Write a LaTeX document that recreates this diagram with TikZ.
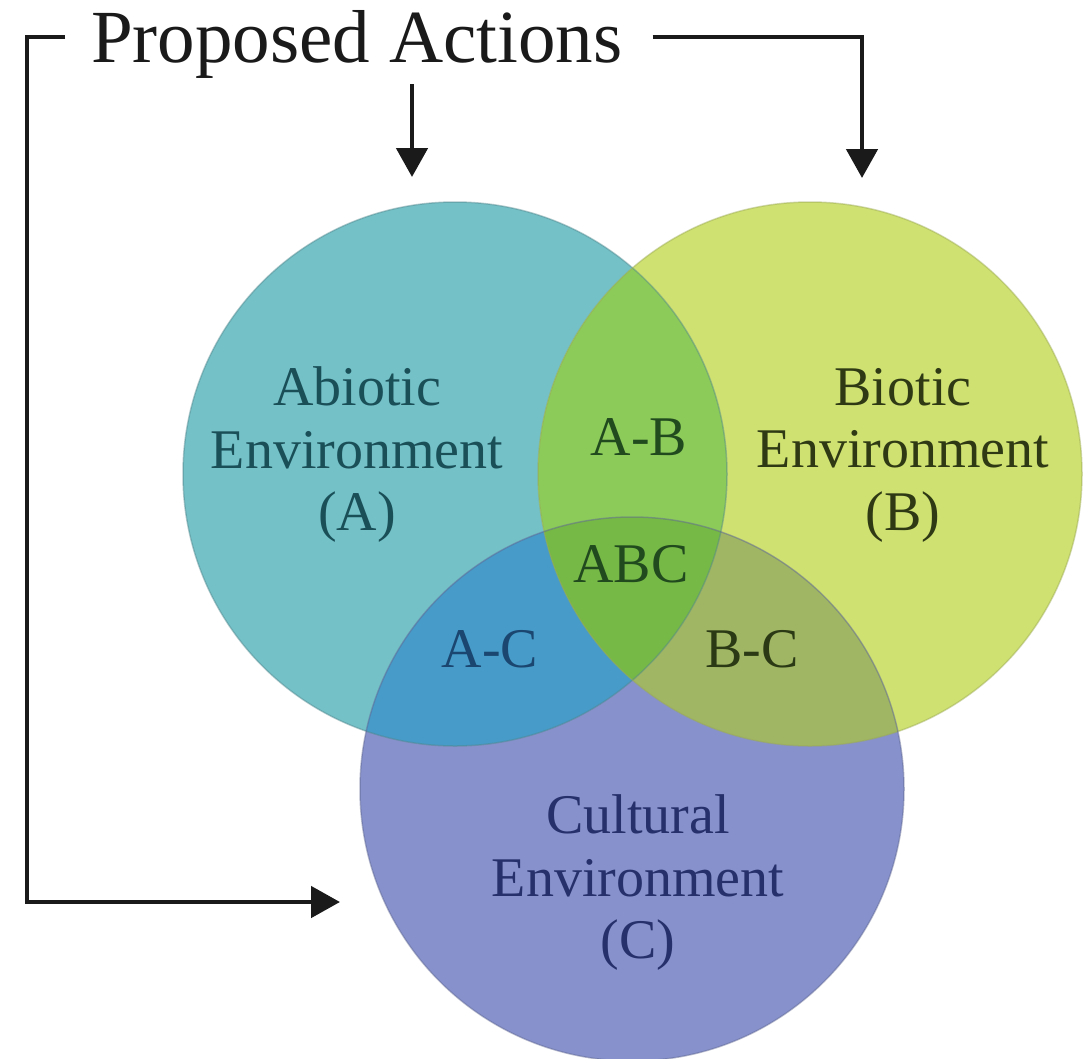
\documentclass[tikz,border=0pt]{standalone}
\usepackage{fontspec}
\setmainfont{Liberation Serif}
\usetikzlibrary{arrows.meta}
\definecolor{cA}{HTML}{74C1C8}
\definecolor{cB}{HTML}{CEE171}
\definecolor{cC}{HTML}{8792CD}
\definecolor{cAB}{HTML}{8CCA5A}
\definecolor{cAC}{HTML}{469BC8}
\definecolor{cBC}{HTML}{A0B664}
\definecolor{cABC}{HTML}{76B946}
\definecolor{tA}{HTML}{1A4F58}
\definecolor{tB}{HTML}{2F3A14}
\definecolor{tC}{HTML}{26306A}
\definecolor{tAB}{HTML}{214A1E}
\definecolor{tAC}{HTML}{1A4670}
\definecolor{tBC}{HTML}{2B3A14}
\definecolor{lineclr}{HTML}{1A1A1A}
\begin{document}
\begin{tikzpicture}[x=1pt,y=-1pt,
  conn/.style={line width=4.8pt, draw=lineclr},
  tipend/.style={-{Triangle[length=29pt,width=31pt]}},
  setcircle/.style={circle, inner sep=0pt, outer sep=0pt, minimum size=544pt},
  biglab/.style={font=\fontsize{56}{62.5}\selectfont, align=center, inner sep=0pt},
  smalllab/.style={font=\fontsize{56}{62.5}\selectfont, inner sep=0pt, anchor=base},
  edge/.style={line width=1.5pt, opacity=0.45}
]
\useasboundingbox (0,0) rectangle (1084,1058);
\fill[white] (0,0) rectangle (1084,1058);

% circles
\node[setcircle, fill=cA] (A) at (455,474) {};
\node[setcircle, fill=cB] (B) at (810,474) {};
\node[setcircle, fill=cC] (C) at (632,789) {};

% overlaps
\begin{scope}
  \clip (A.center) circle[radius=272pt];
  \fill[cAB] (B.center) circle[radius=272pt];
  \fill[cAC] (C.center) circle[radius=272pt];
\end{scope}
\begin{scope}
  \clip (B.center) circle[radius=272pt];
  \fill[cBC] (C.center) circle[radius=272pt];
  \clip (A.center) circle[radius=272pt];
  \fill[cABC] (C.center) circle[radius=272pt];
\end{scope}

% outlines
\draw[edge, cA!70!black] (A.center) circle[radius=272pt];
\draw[edge, cB!75!black] (B.center) circle[radius=272pt];
\draw[edge, cC!70!black] (C.center) circle[radius=272pt];

% labels
\node[biglab, text=tA] (labA) at (357,455) {Abiotic\\Environment\\(A)};
\node[biglab, text=tB] (labB) at (903,455) {Biotic\\Environment\\(B)};
\node[biglab, text=tC] (labC) at (638,883) {Cultural\\Environment\\(C)};
\node[smalllab, text=tAB] (labAB) at (639,455) {A-B};
\node[smalllab, text=tAB] (labABC) at (631,582) {ABC};
\node[smalllab, text=tAC] (labAC) at (490,667) {A-C};
\node[smalllab, text=tBC] (labBC) at (752,667) {B-C};

% title
\node[anchor=base west, inner sep=0pt, font=\fontsize{75}{80}\selectfont, text=lineclr] (pa) at (91,62) {Proposed Actions};

% connector end points
\coordinate (inA) at (412,177);
\coordinate (inB) at (862,178);
\coordinate (inC) at (340,902);
\coordinate (leftbend) at (27,902);

\draw[conn, tipend] ([shift={(-26,-25)}]pa.base west) -| (leftbend) -- (inC);
\draw[conn, tipend] ([shift={(30,-25)}]pa.base east) -| (inB);
\draw[conn, tipend] ([yshift=-6pt]inA |- pa.south) -- (inA);
\end{tikzpicture}
\end{document}
